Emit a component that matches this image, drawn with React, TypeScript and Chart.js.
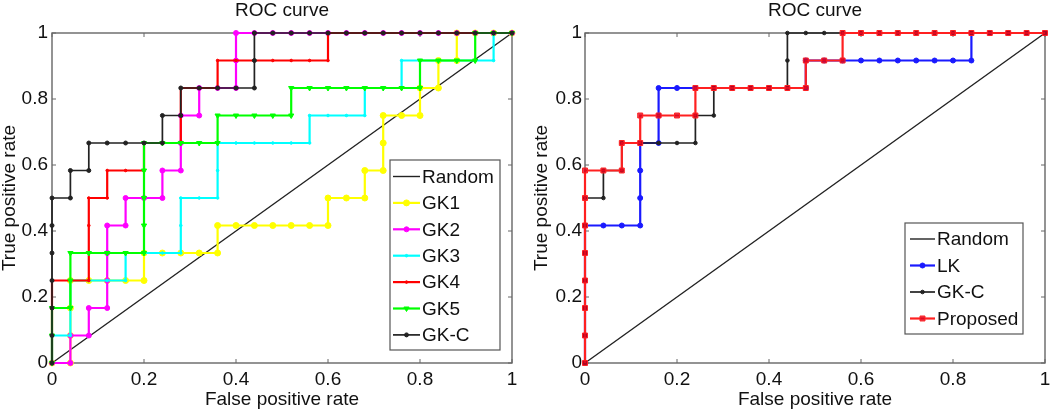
import React, { useEffect, useRef } from 'react';
import { Chart, registerables } from 'chart.js';
import { drawPoint } from 'chart.js/helpers';

Chart.register(...registerables);

const FONT = '"Liberation Sans", Arial, Helvetica, sans-serif';
const FONT_SIZE = 19;

// ROC: 25 negatives (x steps of 0.04) and 12 positives (y steps of 1/12)
const NUM_NEG = 25;
const NUM_POS = 12;

const tickValues = [0, 0.2, 0.4, 0.6, 0.8, 1];
const xTickLabels = ['0', '0.2', '0.4', '0.6', '0.8', '1'];
const yTickLabels = ['0', '0.2', '0.4', '0.6', '0.8', '1'];

const randomX = [0, 1];
const randomY = [0, 1];

// True-positive count (out of 12) held along each of the 25 false-positive steps
const gk1Levels = [0, 3, 3, 3, 3, 4, 4, 4, 4, 5, 5, 5, 5, 5, 5, 6, 6, 7, 9, 9, 10, 11, 12, 12, 12];
const gk2Levels = [0, 1, 2, 5, 6, 6, 7, 9, 10, 10, 12, 12, 12, 12, 12, 12, 12, 12, 12, 12, 12, 12, 12, 12, 12];
const gk3Levels = [1, 3, 3, 3, 4, 4, 4, 6, 6, 8, 8, 8, 8, 8, 9, 9, 9, 10, 10, 11, 11, 11, 11, 11, 12];
const gk4Levels = [3, 3, 6, 7, 7, 8, 8, 10, 10, 11, 11, 11, 11, 11, 11, 12, 12, 12, 12, 12, 12, 12, 12, 12, 12];
const gk5Levels = [2, 4, 4, 4, 4, 8, 8, 8, 8, 9, 9, 9, 9, 10, 10, 10, 10, 10, 10, 10, 11, 11, 11, 12, 12];
const gkcLevels = [6, 7, 8, 8, 8, 8, 9, 10, 10, 10, 10, 12, 12, 12, 12, 12, 12, 12, 12, 12, 12, 12, 12, 12, 12];
const lkLevels = [5, 5, 5, 8, 10, 10, 10, 10, 10, 10, 10, 10, 11, 11, 11, 11, 11, 11, 11, 11, 11, 12, 12, 12, 12];
const proposedLevels = [7, 7, 8, 9, 9, 9, 10, 10, 10, 10, 10, 10, 11, 11, 12, 12, 12, 12, 12, 12, 12, 12, 12, 12, 12];

function staircase(levels: number[]) {
  const pts: { x: number; y: number }[] = [{ x: 0, y: 0 }];
  let cur = 0;
  const climb = (k: number, target: number) => {
    for (let t = cur + 1; t <= target; t++) pts.push({ x: k / NUM_NEG, y: t / NUM_POS });
    cur = Math.max(cur, target);
  };
  levels.forEach((lv, k) => {
    climb(k, lv);
    pts.push({ x: (k + 1) / NUM_NEG, y: cur / NUM_POS });
  });
  climb(NUM_NEG, NUM_POS);
  return pts;
}

function randomLine() {
  return randomX.map((x, i) => ({ x, y: randomY[i] }));
}

function curve(label: string, levels: number[], color: string, width: number, style: string, radius: number, fill: string, rotation = 0) {
  return {
    label,
    data: staircase(levels),
    borderColor: color,
    borderWidth: width,
    pointStyle: style,
    pointRadius: radius,
    pointBackgroundColor: fill,
    pointBorderColor: color,
    pointBorderWidth: 1,
    pointRotation: rotation,
  };
}

const randomDataset = () => ({
  label: 'Random',
  data: randomLine(),
  borderColor: '#222',
  borderWidth: 1.4,
  pointRadius: 0,
});

const boxPlugin = {
  id: 'matlabBox',
  beforeDatasetsDraw(chart: any) {
    const { ctx, chartArea: a, scales } = chart;
    ctx.save();
    ctx.strokeStyle = '#666';
    ctx.lineWidth = 1.4;
    ctx.strokeRect(a.left, a.top, a.right - a.left, a.bottom - a.top);
    ctx.lineWidth = 1;
    const len = 4;
    ctx.beginPath();
    tickValues.forEach((v) => {
      const px = scales.x.getPixelForValue(v);
      const py = scales.y.getPixelForValue(v);
      ctx.moveTo(px, a.bottom); ctx.lineTo(px, a.bottom - len);
      ctx.moveTo(px, a.top); ctx.lineTo(px, a.top + len);
      ctx.moveTo(a.left, py); ctx.lineTo(a.left + len, py);
      ctx.moveTo(a.right, py); ctx.lineTo(a.right - len, py);
    });
    ctx.stroke();
    ctx.restore();
  },
};

const legendPlugin = {
  id: 'boxLegend',
  afterDraw(chart: any, _args: any, opts: any) {
    const { ctx } = chart;
    ctx.save();
    ctx.fillStyle = '#fff';
    ctx.strokeStyle = '#555';
    ctx.lineWidth = 1.2;
    ctx.fillRect(opts.left, opts.top, opts.width, opts.height);
    ctx.strokeRect(opts.left, opts.top, opts.width, opts.height);
    ctx.font = `${FONT_SIZE}px ${FONT}`;
    ctx.textBaseline = 'middle';
    chart.data.datasets.forEach((ds: any, i: number) => {
      const y = opts.firstRow + i * opts.rowHeight;
      const x0 = opts.left + opts.sampleStart;
      const x1 = x0 + opts.sampleLength;
      ctx.strokeStyle = ds.borderColor;
      ctx.lineWidth = ds.borderWidth;
      ctx.beginPath();
      ctx.moveTo(x0, y);
      ctx.lineTo(x1, y);
      ctx.stroke();
      if (ds.pointRadius > 0) {
        ctx.fillStyle = ds.pointBackgroundColor;
        ctx.strokeStyle = ds.pointBorderColor;
        ctx.lineWidth = 1;
        drawPoint(ctx, { pointStyle: ds.pointStyle, radius: ds.pointRadius, borderWidth: 1, rotation: ds.pointRotation || 0 } as any, (x0 + x1) / 2, y);
      }
      ctx.fillStyle = '#111';
      ctx.fillText(ds.label, x1 + opts.textGap, y + 1);
    });
    ctx.restore();
  },
};

type PanelProps = {
  width: number;
  left: number;
  datasets: any[];
  legend: any;
  yAxisWidth: number;
  padRight: number;
  yTitlePad: number;
  yTickPad: number;
};

function RocPanel({ width, left, datasets, legend, yAxisWidth, padRight, yTitlePad, yTickPad }: PanelProps) {
  const ref = useRef<HTMLCanvasElement>(null);
  useEffect(() => {
    if (!ref.current) return;
    const font = { family: FONT, size: FONT_SIZE, weight: 'normal' as const, lineHeight: 1 };
    const ds = datasets.map((d, i) => ({ ...d, order: -i, clip: false, fill: false, tension: 0 }));
    const chart = new Chart(ref.current, {
      type: 'line',
      data: { datasets: ds },
      options: {
        responsive: false,
        animation: false,
        events: [],
        layout: { padding: { left: 0, right: padRight, top: 0, bottom: 0 } },
        plugins: {
          legend: { display: false },
          tooltip: { enabled: false },
          title: {
            display: true,
            text: 'ROC curve',
            fullSize: false,
            color: '#111',
            font,
            padding: { top: 1, bottom: 13 },
          },
          boxLegend: legend,
        } as any,
        scales: {
          x: {
            type: 'linear',
            min: 0,
            max: 1,
            grid: { display: false, drawTicks: false },
            border: { display: false },
            afterBuildTicks: (scale: any) => {
              scale.ticks = tickValues.map((v) => ({ value: v }));
            },
            afterFit: (scale: any) => {
              scale.height = 50;
              scale.paddingLeft = 0;
              scale.paddingRight = 0;
            },
            ticks: {
              autoSkip: false,
              maxRotation: 0,
              padding: 7,
              color: '#111',
              font,
              callback: (_v: any, i: number) => xTickLabels[i],
            },
            title: { display: true, text: 'False positive rate', color: '#111', font, padding: { top: 0, bottom: 4 } },
          },
          y: {
            type: 'linear',
            min: 0,
            max: 1,
            grid: { display: false, drawTicks: false },
            border: { display: false },
            afterBuildTicks: (scale: any) => {
              scale.ticks = tickValues.map((v) => ({ value: v }));
            },
            afterFit: (scale: any) => {
              scale.width = yAxisWidth;
              scale.paddingTop = 0;
              scale.paddingBottom = 0;
            },
            ticks: {
              autoSkip: false,
              padding: yTickPad,
              color: '#111',
              font,
              callback: (_v: any, i: number) => yTickLabels[i],
            },
            title: { display: true, text: 'True positive rate', color: '#111', font, padding: { top: yTitlePad, bottom: 0 } },
          },
        },
      } as any,
      plugins: [boxPlugin, legendPlugin],
    });
    return () => chart.destroy();
  }, []);
  return (
    <canvas
      ref={ref}
      width={width}
      height={413}
      style={{ position: 'absolute', left, top: 0, width, height: 413, display: 'block' }}
    />
  );
}

const leftDatasets = () => [
  randomDataset(),
  curve('GK1', gk1Levels, '#ffff00', 2.2, 'circle', 3, '#ffff00'),
  curve('GK2', gk2Levels, '#ff00ff', 2.2, 'circle', 2.5, '#ff00ff'),
  curve('GK3', gk3Levels, '#00ffff', 2.2, 'circle', 1.3, '#00ffff'),
  curve('GK4', gk4Levels, '#ff0000', 2.2, 'circle', 1.3, '#ff0000'),
  curve('GK5', gk5Levels, '#00ff00', 2.2, 'triangle', 3, '#00ff00', 180),
  curve('GK-C', gkcLevels, '#222222', 1.7, 'circle', 2, '#222222'),
];

const rightDatasets = () => [
  randomDataset(),
  curve('LK', lkLevels, '#1a1aff', 2.2, 'circle', 2.5, '#1a1aff'),
  curve('GK-C', gkcLevels, '#222222', 1.7, 'circle', 1.8, '#222222'),
  curve('Proposed', proposedLevels, '#ff2020', 2.2, 'rect', 3.5, 'rgba(220,0,30,0.75)'),
];

export default function App() {
  return (
    <div style={{ position: 'absolute', left: 0, top: 0, width: 1050, height: 413, background: '#fff', overflow: 'hidden' }}>
      <RocPanel
        width={525}
        left={0}
        datasets={leftDatasets()}
        yAxisWidth={52}
        padRight={13}
        yTitlePad={0}
        yTickPad={4}
        legend={{ left: 390, top: 160, width: 110, height: 190, firstRow: 176.5, rowHeight: 26.4, sampleStart: 3, sampleLength: 27, textGap: 2 }}
      />
      <RocPanel
        width={525}
        left={525}
        datasets={rightDatasets()}
        yAxisWidth={60}
        padRight={5}
        yTitlePad={7}
        yTickPad={3}
        legend={{ left: 380, top: 223, width: 118, height: 111, firstRow: 239, rowHeight: 26.5, sampleStart: 5, sampleLength: 25, textGap: 2 }}
      />
    </div>
  );
}
